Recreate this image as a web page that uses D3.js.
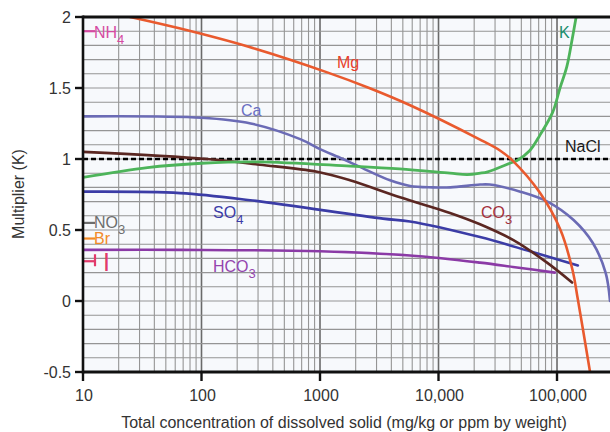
<!DOCTYPE html>
<html>
<head>
<meta charset="utf-8">
<script src="https://cdn.jsdelivr.net/npm/d3@7"></script>
<style>
  html, body { margin: 0; padding: 0; background: #fff; }
  svg { display: block; font-family: "Liberation Sans", Arial, Helvetica, sans-serif; }
</style>
</head>
<body>
<svg id="chart" width="610" height="432"></svg>
<script>
// Concentration (mg/kg) and multiplier K for each ion
const mgConc = [25, 65, 250, 1150, 2600, 5700, 22000, 33000, 42000, 72000, 107000, 135000, 150000, 190000];
const mgK    = [2.0, 1.92, 1.79, 1.61, 1.50, 1.38, 1.14, 1.06, 0.99, 0.76, 0.50, 0.22, 0.01, -0.5];

const kConc = [10, 35, 100, 300, 1800, 4700, 12500, 17500, 22500, 26000, 40000, 46000, 59000, 72000, 92000, 106000, 121000, 134000, 145000];
const kK    = [0.87, 0.94, 0.97, 0.98, 0.95, 0.93, 0.90, 0.89, 0.90, 0.91, 0.97, 0.99, 1.06, 1.17, 1.33, 1.50, 1.65, 1.84, 2.0];

const caConc = [10, 100, 260, 680, 1000, 1560, 2500, 3900, 5750, 8900, 12600, 22400, 27000, 49000, 83000, 138000, 200000, 257000, 280000];
const caK    = [1.30, 1.29, 1.25, 1.14, 1.07, 1.00, 0.92, 0.85, 0.81, 0.80, 0.80, 0.82, 0.82, 0.77, 0.70, 0.57, 0.41, 0.20, 0.0];

const co3Conc = [10, 111, 312, 944, 1790, 4730, 12500, 22400, 42500, 82400, 134000];
const co3K    = [1.05, 1.00, 0.96, 0.91, 0.85, 0.73, 0.62, 0.54, 0.43, 0.27, 0.13];

const so4Conc = [10, 66, 257, 3400, 5740, 22400, 59200, 150000];
const so4K    = [0.77, 0.76, 0.71, 0.58, 0.56, 0.45, 0.35, 0.25];

const hco3Conc = [10, 66, 1000, 5740, 22400, 42500, 96000];
const hco3K    = [0.36, 0.36, 0.35, 0.32, 0.27, 0.24, 0.20];

const naclConc = [10, 280000];
const naclK    = [1.0, 1.0];

// Constant multipliers marked at the left edge
const constNames = ["NH4", "NO3", "Br", "I"];
const constK     = [1.9, 0.55, 0.44, 0.28];

const xTicks = [10, 100, 1000, 10000, 100000];
const xTickLabels = ["10", "100", "1000", "10,000", "100,000"];
const yTicks = [2, 1.5, 1, 0.5, 0, -0.5];
const yTickLabels = ["2", "1.5", "1", "0.5", "0", "-0.5"];

const svg = d3.select("#chart");
const pLeft = 83, pRight = 610, pTop = 17, pBottom = 372;

const x = d3.scaleLog().domain([10, 280000]).range([pLeft, pRight]);
const y = d3.scaleLinear().domain([-0.5, 2]).range([pBottom, pTop]);

// plot background
svg.append("rect").attr("x", pLeft).attr("y", pTop)
  .attr("width", pRight - pLeft).attr("height", pBottom - pTop)
  .attr("fill", "#f7f9fc");

svg.append("clipPath").attr("id", "plotclip")
  .append("rect").attr("x", pLeft).attr("y", pTop)
  .attr("width", pRight - pLeft).attr("height", pBottom - pTop);

// grid: vertical lines for 1..9 within each decade up to 100,000
const grid = svg.append("g");
const vLines = [];
for (let d = 10; d <= 100000; d *= 10) {
  for (let m = 1; m <= 9; m++) {
    const v = d * m;
    if (v > 100000) break;
    vLines.push({ v, major: m === 1 });
  }
}
grid.selectAll("line.v").data(vLines).join("line")
  .attr("x1", d => x(d.v)).attr("x2", d => x(d.v))
  .attr("y1", pTop).attr("y2", pBottom)
  .attr("stroke", d => d.major ? "#6a6a6a" : "#959595")
  .attr("stroke-width", d => d.major ? 1.6 : 1.1);

const hLines = d3.range(-5, 21).map(i => i / 10);
grid.selectAll("line.h").data(hLines).join("line")
  .attr("x1", pLeft).attr("x2", pRight)
  .attr("y1", d => y(d)).attr("y2", d => y(d))
  .attr("stroke", "#959595").attr("stroke-width", 1.1);

// series
const series = [
  { conc: hco3Conc, k: hco3K, color: "#8b3aa6", w: 2.6 },
  { conc: so4Conc,  k: so4K,  color: "#3b3ca6", w: 2.6 },
  { conc: co3Conc,  k: co3K,  color: "#5b2722", w: 2.6 },
  { conc: caConc,   k: caK,   color: "#6b6bb5", w: 2.6 },
  { conc: kConc,    k: kK,    color: "#4db45a", w: 2.8 },
  { conc: mgConc,   k: mgK,   color: "#e95a2e", w: 2.6 }
];

const line = d3.line()
  .x(d => x(d[0])).y(d => y(d[1]))
  .curve(d3.curveCatmullRom.alpha(0.5));

const plot = svg.append("g").attr("clip-path", "url(#plotclip)");

// NaCl reference (dashed)
plot.append("path")
  .datum(d3.zip(naclConc, naclK))
  .attr("d", line)
  .attr("fill", "none").attr("stroke", "#000")
  .attr("stroke-width", 2.6).attr("stroke-dasharray", "5,3");

series.forEach(s => {
  plot.append("path")
    .datum(d3.zip(s.conc, s.k))
    .attr("d", line)
    .attr("fill", "none")
    .attr("stroke", s.color)
    .attr("stroke-width", s.w)
    .attr("stroke-linecap", "round");
});

// short markers for constant multipliers
const constColors = ["#d54aa2", "#6e6e6e", "#f28a26", "#e23a6b"];
const mark = svg.append("g");
constK.forEach((v, i) => {
  mark.append("line")
    .attr("x1", pLeft).attr("x2", pLeft + 12)
    .attr("y1", y(v)).attr("y2", y(v))
    .attr("stroke", constColors[i]).attr("stroke-width", 2.2);
});
// end cap on the iodide marker
mark.append("line")
  .attr("x1", pLeft + 12).attr("x2", pLeft + 12)
  .attr("y1", y(constK[3]) - 7).attr("y2", y(constK[3]) + 5)
  .attr("stroke", constColors[3]).attr("stroke-width", 2.2);

// axes
svg.append("line").attr("x1", pLeft).attr("x2", pRight).attr("y1", pTop).attr("y2", pTop)
  .attr("stroke", "#111").attr("stroke-width", 3);
svg.append("line").attr("x1", pLeft).attr("x2", pRight).attr("y1", pBottom).attr("y2", pBottom)
  .attr("stroke", "#111").attr("stroke-width", 3);
svg.append("line").attr("x1", pLeft).attr("x2", pLeft).attr("y1", pTop - 1.5).attr("y2", pBottom + 1.5)
  .attr("stroke", "#111").attr("stroke-width", 2.6);

const yAxis = svg.append("g");
yTicks.forEach((t, i) => {
  yAxis.append("line").attr("x1", pLeft - 8).attr("x2", pLeft)
    .attr("y1", y(t)).attr("y2", y(t))
    .attr("stroke", "#111").attr("stroke-width", 2.4);
  yAxis.append("text").attr("x", pLeft - 12).attr("y", y(t)).attr("dy", "0.36em")
    .attr("text-anchor", "end").attr("font-size", 16).attr("fill", "#333")
    .text(yTickLabels[i]);
});

const xAxis = svg.append("g");
xTicks.forEach((t, i) => {
  xAxis.append("line").attr("x1", x(t)).attr("x2", x(t))
    .attr("y1", pBottom).attr("y2", pBottom + 9)
    .attr("stroke", "#111").attr("stroke-width", 2.4);
  xAxis.append("text").attr("x", x(t) + 1).attr("y", 401)
    .attr("text-anchor", "middle").attr("font-size", 16).attr("fill", "#333")
    .text(xTickLabels[i]);
});

svg.append("text").attr("x", 344).attr("y", 428)
  .attr("text-anchor", "middle").attr("font-size", 16).attr("fill", "#333")
  .text("Total concentration of dissolved solid (mg/kg or ppm by weight)");

svg.append("text")
  .attr("transform", "translate(24,194) rotate(-90)")
  .attr("text-anchor", "middle").attr("font-size", 16).attr("fill", "#333")
  .text("Multiplier (K)");

// series labels
function label(px, py, main, sub, color, size) {
  const t = svg.append("text").attr("x", px).attr("y", py)
    .attr("font-size", size || 16).attr("fill", color);
  t.append("tspan").text(main);
  if (sub) t.append("tspan").attr("dy", 6).attr("font-size", 13).text(sub);
}
label(337, 68, "Mg", null, "#e8402a");
label(241, 116, "Ca", null, "#6a6ec2");
label(559, 38, "K", null, "#1c8f6c");
label(565, 152, "NaCl", null, "#1a1a1a");
label(481, 218, "CO", "3", "#a4303c");
label(213, 218, "SO", "4", "#3b3ca8");
label(213, 272, "HCO", "3", "#9545ae");
label(94, 38, "NH", "4", "#d54aa2");
label(94, 228, "NO", "3", "#6e6e6e");
label(94, 244, "Br", null, "#f28a26");
label(103, 271, "I", null, "#e23a6b", 25);
</script>
</body>
</html>
